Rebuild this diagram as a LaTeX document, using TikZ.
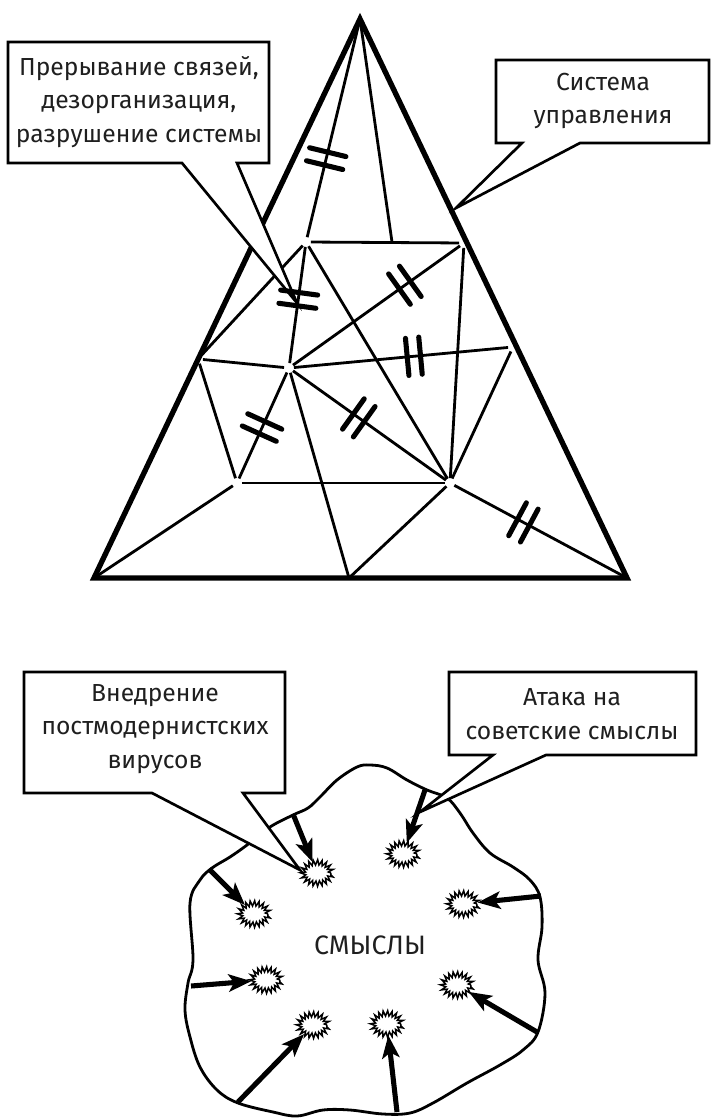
\documentclass[tikz,border=0pt]{standalone}
\usepackage{fontspec}
\setmainfont{Fira Sans}
\usetikzlibrary{arrows.meta,shapes.geometric,decorations.markings,decorations.pathmorphing}

\begin{document}
\begin{tikzpicture}[x=0.75pt,y=0.75pt,yscale=-1,xscale=1,
  edge/.style={line width=4pt},
  link/.style={line width=2.1pt},
  jn/.style={circle,inner sep=0pt,minimum size=7pt},
  brk/.style={postaction={decorate,decoration={markings,
    mark=at position #1 with {\draw[line width=3.8pt,line cap=round] (-5pt,-14pt) -- (-5pt,14pt) (5pt,-14pt) -- (5pt,14pt);}}}},
  callout/.style={draw,fill=white,line width=2pt},
  lbl/.style={align=center,inner sep=0pt,text=black!88,font=\fontsize{18.5pt}{25pt}\selectfont},
  push/.style={line width=3.8pt,-{Stealth[length=17pt,width=13pt,inset=4pt]}},
  virus/.style={ellipse,draw,fill=white,line width=1.1pt,inner sep=0pt,minimum width=21pt,minimum height=16pt,
    decorate,decoration={zigzag,segment length=3pt,amplitude=2pt}},
  blob/.style={line width=2.1pt}]
\useasboundingbox (0,0) rectangle (711,1119);

%Shape: Triangle
\coordinate (T) at (360,19);
\coordinate (L) at (94,578);
\coordinate (R) at (627,578);
\draw[edge] (T) -- (L) -- (R) -- cycle;

%Junctions
\node[jn] (A) at (306,242) {};
\node[jn] (B) at (464,243) {};
\node[jn] (C) at (198,359) {};
\node[jn] (D) at (289,368) {};
\node[jn] (E) at (513,347) {};
\node[jn] (G) at (237,483) {};
\node[jn] (F) at (450,483) {};
\coordinate (M) at (392,242);
\coordinate (H) at (349,578);

%Straight Lines
\foreach \p/\q in {T/A,T/M,A/B,A/C,A/D,A/F,B/D,B/F,C/D,C/G,D/E,D/G,D/F,D/H,E/F,G/F,G/L,F/H,F/R}
  \draw[link] (\p) -- (\q);

%Shape: Callout
\coordinate (tipA) at (297,303);
\draw[callout] (8,42) -- (269,42) -- (269,163) -- (237,163) -- (tipA) -- (182,163) -- (8,163) -- cycle;
%Shape: Callout
\coordinate (tipB) at (456,208);
\draw[callout] (496,60) -- (709,60) -- (709,143) -- (580,143) -- (tipB) -- (522,143) -- (496,143) -- cycle;

% Text Node
\node[lbl] (broken) at (139,102) {Прерывание связей,\\дезорганизация,\\разрушение системы};
% Text Node
\node[lbl] (control) at (603,101) {Система\\управления};

%Breaks
\foreach \p/\q/\t in {T/A/0.64,A/D/0.45,B/D/0.33,D/E/0.56,D/G/0.52,D/F/0.43,F/R/0.40}
  \path[brk=\t] (\p) -- (\q);

%Shape: Blob
\draw[blob] plot[smooth cycle,tension=0.6] coordinates {(357,767) (370,765) (387,768) (407,780) (427,790) (447,798)
  (460,813) (473,833) (490,853) (513,867) (530,880) (540,897) (542,927) (538,960) (545,993) (538,1032)
  (523,1050) (500,1065) (467,1083) (433,1103) (410,1113) (383,1114) (350,1110) (323,1110) (297,1116)
  (273,1112) (238,1103) (217,1090) (200,1067) (190,1037) (185,1010) (188,983) (193,960) (190,903)
  (200,880) (212,868) (230,857) (247,845) (270,827) (293,815) (308,808) (320,797) (337,780)};

% Text Node
\node[lbl,font=\fontsize{20pt}{25pt}\selectfont] (sense) at (370,945) {СМЫСЛЫ};

%Viruses
\foreach \n/\x/\y in {1/317/873,2/403/854,3/254/914,4/463/904,5/266/980,6/457/985,7/313/1025,8/387/1024}
  \node[virus] (v\n) at (\x,\y) {};
\foreach \n/\x/\y in {1/293/814,2/425/790,3/209/869,4/541/896,5/191/986,6/537/1032,7/238/1102,8/397/1112}
  \coordinate (s\n) at (\x,\y);

%Arrows
\foreach \n in {1,...,8}
  \draw[push] (s\n) -- (v\n);

%Shape: Callout
\coordinate (tipC) at (300,870);
\draw[callout] (24,672) -- (285,672) -- (285,793) -- (243,793) -- (tipC) -- (152,793) -- (24,793) -- cycle;
%Shape: Callout
\coordinate (tipD) at (420,812);
\draw[callout] (449,672) -- (696,672) -- (696,755) -- (546,755) -- (tipD) -- (493,755) -- (449,755) -- cycle;

% Text Node
\node[lbl] (virus) at (155,729) {Внедрение\\постмодернистских\\вирусов};
% Text Node
\node[lbl] (attack) at (572,714) {Атака на\\советские смыслы};

\end{tikzpicture}
\end{document}
